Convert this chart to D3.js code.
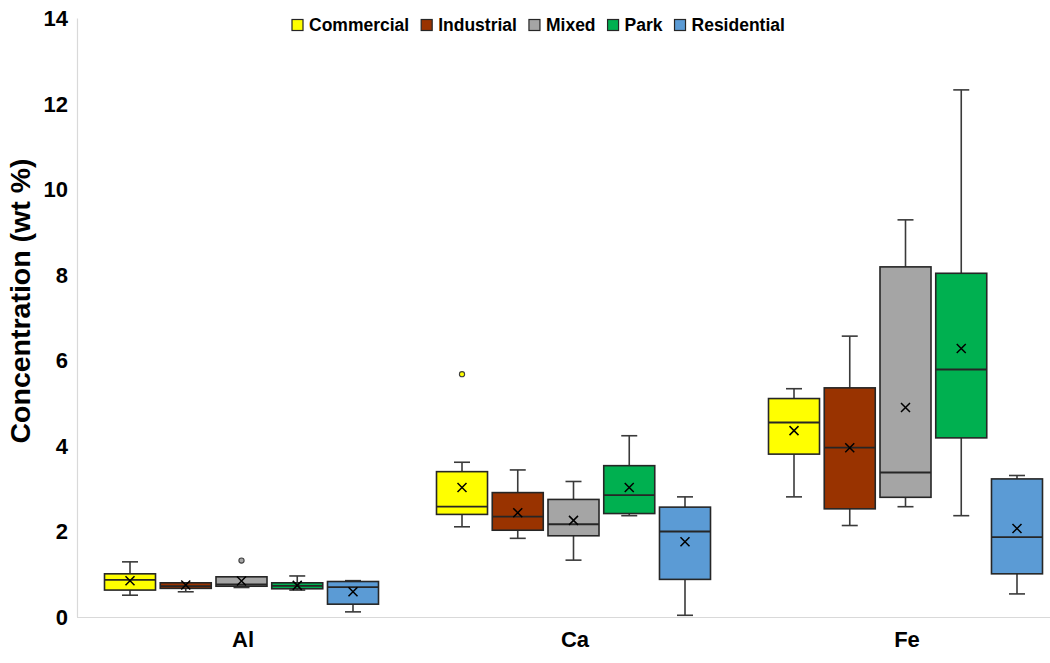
<!DOCTYPE html>
<html><head><meta charset="utf-8">
<script src="https://cdn.jsdelivr.net/npm/d3@7"></script>
<style>
html,body{margin:0;padding:0;background:#fff;}
svg{display:block;font-family:"Liberation Sans",Arial,sans-serif;}
</style></head>
<body><svg id="chart" width="1050" height="663"></svg>
<script>
// ---- data ----
const categories = ["Al", "Ca", "Fe"];
const seriesNames = ["Commercial", "Industrial", "Mixed", "Park", "Residential"];
const seriesColors = ["#FFFF00", "#993300", "#A5A5A5", "#00B050", "#5B9BD5"];
const yTicks = [0, 2, 4, 6, 8, 10, 12, 14];
// each row: [lowWhisker, q1, median, q3, highWhisker, mean] for Al, Ca, Fe
const commercial  = [[0.51, 0.63, 0.87, 1.01, 1.29, 0.85], [2.11, 2.40, 2.58, 3.40, 3.62, 3.03], [2.81, 3.81, 4.55, 5.11, 5.34, 4.36]];
const industrial  = [[0.59, 0.67, 0.72, 0.80, 0.80, 0.75], [1.84, 2.03, 2.35, 2.91, 3.44, 2.44], [2.14, 2.53, 3.96, 5.36, 6.57, 3.96]];
const mixed       = [[0.69, 0.72, 0.76, 0.94, 0.94, 0.84], [1.33, 1.90, 2.17, 2.75, 3.17, 2.26], [2.58, 2.80, 3.38, 8.19, 9.29, 4.90]];
const park        = [[0.63, 0.66, 0.73, 0.80, 0.96, 0.74], [2.37, 2.42, 2.85, 3.54, 4.24, 3.03], [2.37, 4.19, 5.79, 8.04, 12.33, 6.28]];
const residential = [[0.12, 0.30, 0.70, 0.83, 0.85, 0.59], [0.04, 0.88, 2.00, 2.57, 2.81, 1.76], [0.54, 1.01, 1.87, 3.23, 3.31, 2.07]];
// outliers: [category, series, value]
const outliers = [["Al", "Mixed", 1.32], ["Ca", "Commercial", 5.68]];

const seriesData = [commercial, industrial, mixed, park, residential];

// ---- chart ----
const svg = d3.select("#chart");
const W = 1050, H = 663;
const x0 = d3.scaleBand().domain(categories).range([77, 1073]);
const x1 = d3.scaleBand().domain(seriesNames).range([-138.5, 135.5]).paddingInner(0.085);
const y = d3.scaleLinear().domain([0, 14]).range([617, 18.5]);
const color = d3.scaleOrdinal().domain(seriesNames).range(seriesColors);

// axes lines
svg.append("line").attr("x1", 77.5).attr("x2", 77.5).attr("y1", y(14)).attr("y2", y(0))
  .attr("stroke", "#d9d9d9").attr("stroke-width", 1.2);
svg.append("line").attr("x1", 77).attr("x2", W).attr("y1", y(0) + 0.5).attr("y2", y(0) + 0.5)
  .attr("stroke", "#d9d9d9").attr("stroke-width", 1.2);

// y axis labels
const yAxis = d3.axisLeft(y).tickValues(yTicks).tickSize(0).tickPadding(9);
const gy = svg.append("g").attr("transform", "translate(77,0)").call(yAxis);
gy.select(".domain").remove();
gy.selectAll("text").attr("font-size", 22).attr("font-weight", "bold").attr("fill", "#000")
  .attr("font-family", "Liberation Sans, Arial, sans-serif");

// x axis labels
const xAxis = d3.axisBottom(x0).tickSize(0).tickPadding(14);
const gx = svg.append("g").attr("transform", `translate(0,${y(0)})`).call(xAxis);
gx.select(".domain").remove();
gx.selectAll("text").attr("font-size", 22).attr("font-weight", "bold").attr("fill", "#000")
  .attr("font-family", "Liberation Sans, Arial, sans-serif");

// y title
svg.append("text").attr("transform", `translate(30,301) rotate(-90)`)
  .attr("text-anchor", "middle").attr("font-size", 28.5).attr("font-weight", "bold")
  .text("Concentration (wt %)");

// boxes
const bw = x1.bandwidth();
const capW = 16;
const stroke = "#262626";
seriesNames.forEach((s, si) => {
  const rows = seriesData[si];
  categories.forEach((c, ci) => {
    const [lo, q1, med, q3, hi, mean] = rows[ci];
    const cx = x0(c) + x0.bandwidth() / 2 + x1(s) + bw / 2;
    const g = svg.append("g").attr("class", "box");
    // whiskers
    g.append("line").attr("x1", cx).attr("x2", cx).attr("y1", y(hi)).attr("y2", y(q3)).attr("stroke", "#3a3a3a").attr("stroke-width", 1.6);
    g.append("line").attr("x1", cx).attr("x2", cx).attr("y1", y(q1)).attr("y2", y(lo)).attr("stroke", "#3a3a3a").attr("stroke-width", 1.6);
    g.append("line").attr("x1", cx - capW / 2).attr("x2", cx + capW / 2).attr("y1", y(hi)).attr("y2", y(hi)).attr("stroke", "#3a3a3a").attr("stroke-width", 1.6);
    g.append("line").attr("x1", cx - capW / 2).attr("x2", cx + capW / 2).attr("y1", y(lo)).attr("y2", y(lo)).attr("stroke", "#3a3a3a").attr("stroke-width", 1.6);
    // box
    g.append("rect").attr("x", cx - bw / 2).attr("y", y(q3)).attr("width", bw).attr("height", Math.max(1, y(q1) - y(q3)))
      .attr("fill", color(s)).attr("stroke", stroke).attr("stroke-width", 1.6);
    // median
    g.append("line").attr("x1", cx - bw / 2).attr("x2", cx + bw / 2).attr("y1", y(med)).attr("y2", y(med))
      .attr("stroke", stroke).attr("stroke-width", 1.8);
    // mean marker X
    const m = 4.5, my = y(mean);
    g.append("path").attr("d", `M${cx - m},${my - m}L${cx + m},${my + m}M${cx - m},${my + m}L${cx + m},${my - m}`)
      .attr("stroke", "#000").attr("stroke-width", 1.5).attr("fill", "none");
  });
});

// outliers
outliers.forEach(([c, s, v]) => {
  const cx = x0(c) + x0.bandwidth() / 2 + x1(s) + bw / 2;
  svg.append("circle").attr("cx", cx).attr("cy", y(v)).attr("r", 2.6)
    .attr("fill", color(s)).attr("stroke", "#404040").attr("stroke-width", 1.1);
});

// legend
const legend = svg.append("g").attr("class", "legend");
let lx = 292;
const ly = 25;
seriesNames.forEach((s) => {
  const item = legend.append("g");
  item.append("rect").attr("x", lx).attr("y", ly - 5.5).attr("width", 11).attr("height", 11)
    .attr("fill", color(s)).attr("stroke", "#262626").attr("stroke-width", 1.2);
  const t = item.append("text").attr("x", lx + 17).attr("y", ly).attr("dy", "0.35em")
    .attr("font-size", 17.5).attr("font-weight", "bold").text(s);
  lx += 17 + t.node().getComputedTextLength() + 12;
});
</script>
</body></html>
